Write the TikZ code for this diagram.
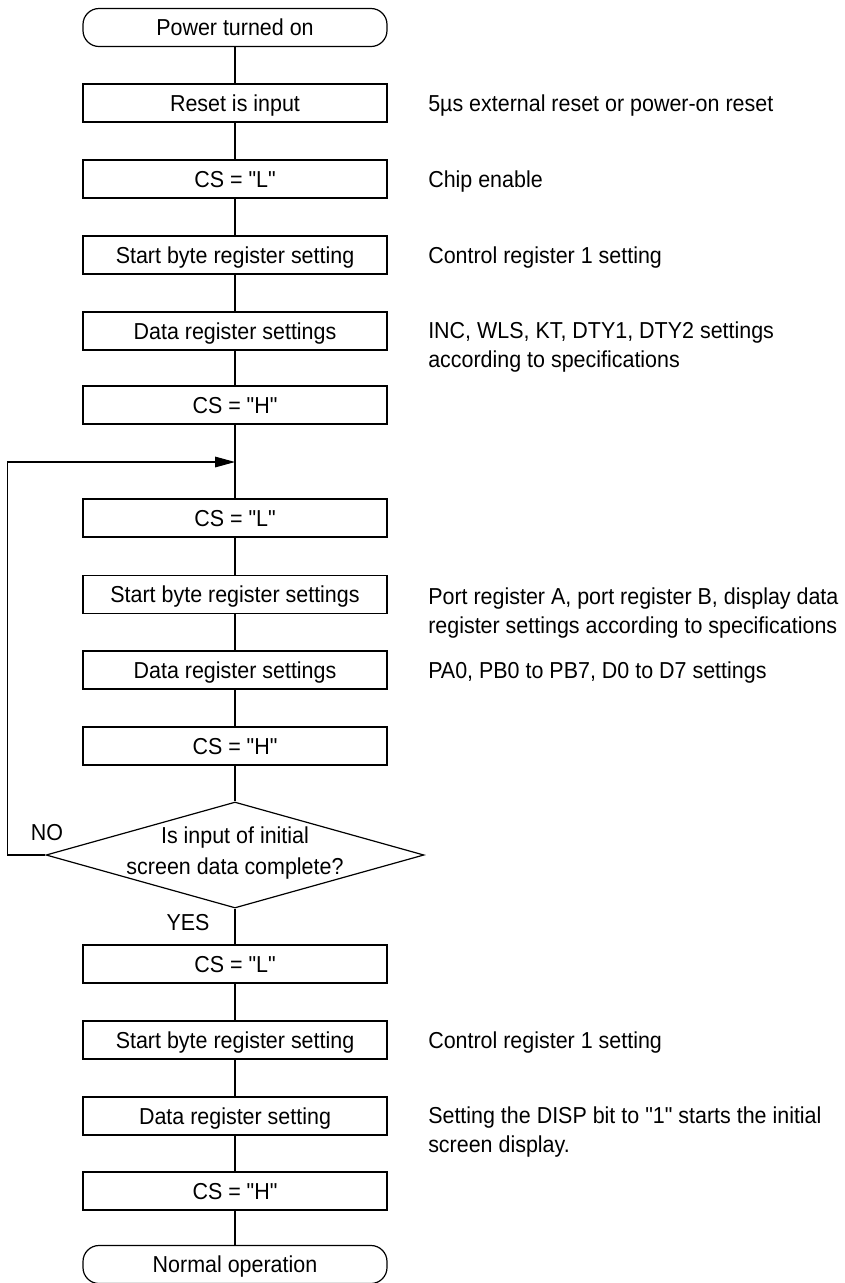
\documentclass[tikz,border=0pt]{standalone}
\usepackage{fontspec}
\setmainfont[FakeStretch=0.93, Ligatures=TeXOff]{Liberation Sans}
\usetikzlibrary{shapes.geometric,arrows.meta}
\begin{document}
\begin{tikzpicture}[x=0.75pt,y=-0.75pt,
  font=\fontsize{17.3pt}{21.75pt}\selectfont,
  boxbase/.style={draw, line width=0.9pt, minimum width=228pt, minimum height=28.5pt, inner sep=0pt, text height=12.4pt, text depth=0pt},
  proc/.style={boxbase},
  term/.style={boxbase, rounded corners=12pt},
  note/.style={anchor=west, align=left, inner sep=0pt},
  notei/.style={note, text height=12.4pt, text depth=0pt},
  dec/.style={draw, shape=diamond, line width=0.9pt, minimum width=283.5pt, minimum height=79.5pt, aspect=3.57, inner sep=0pt},
  dectxt/.style={align=center, inner sep=0pt, font=\fontsize{17.3pt}{23pt}\selectfont},
  flow/.style={line width=0.8pt},
  lbl/.style={inner sep=0pt, text height=12.4pt, text depth=0pt}
]
\useasboundingbox (0,0) rectangle (845,1283);

% main column
\node[term] (start) at (235,27.5) {Power turned on};
\node[proc] (n1) at (235,103) {Reset is input};
\node[proc] (n2) at (235,179) {CS = "L"};
\node[proc] (n3) at (235,255) {Start byte register setting};
\node[proc] (n4) at (235,331) {Data register settings};
\node[proc] (n5) at (235,405) {CS = "H"};
\coordinate (loop) at (235,462);
\node[proc] (n6) at (235,518) {CS = "L"};
\node[proc] (n7) at (235,594.5) {Start byte register settings};
\node[proc] (n8) at (235,670) {Data register settings};
\node[proc] (n9) at (235,746) {CS = "H"};
\node[dec] (dec) at (235,855) {};
\node[dectxt] (dectext) at (235,853) {Is input of initial\\screen data complete?};
\node[proc] (n10) at (235,964) {CS = "L"};
\node[proc] (n11) at (235,1040) {Start byte register setting};
\node[proc] (n12) at (235,1116) {Data register setting};
\node[proc] (n13) at (235,1191) {CS = "H"};
\node[term] (end) at (235,1264.5) {Normal operation};

% connectors
\draw[flow] (start) -- (n1);
\draw[flow] (n1) -- (n2);
\draw[flow] (n2) -- (n3);
\draw[flow] (n3) -- (n4);
\draw[flow] (n4) -- (n5);
\draw[flow] (n5) -- (n6);
\draw[flow] (n6) -- (n7);
\draw[flow] (n7) -- (n8);
\draw[flow] (n8) -- (n9);
\draw[flow] (n9) -- (dec);
\draw[flow] (dec) -- (n10);
\draw[flow] (n10) -- (n11);
\draw[flow] (n11) -- (n12);
\draw[flow] (n12) -- (n13);
\draw[flow] (n13) -- (end);
\draw[flow, -{Triangle[length=15pt,width=8pt]}] (dec.west) -- ++(-38,0) |- (loop);

% branch labels
\node[lbl] (no) at (47,832) {NO};
\node[lbl] (yes) at (188,922) {YES};

% notes
\node[notei] (c1) at (428,103) {5µs external reset or power-on reset};
\node[notei] (c2) at (428,179) {Chip enable};
\node[notei] (c3) at (428,255) {Control register 1 setting};
\node[note] (c4) at (428,347) {INC, WLS, KT, DTY1, DTY2 settings\\according to specifications};
\node[note] (c5) at (428,613) {Port register A, port register B, display data\\register settings according to specifications};
\node[notei] (c6) at (428,670) {PA0, PB0 to PB7, D0 to D7 settings};
\node[notei] (c7) at (428,1040) {Control register 1 setting};
\node[note] (c8) at (428,1132) {Setting the DISP bit to "1" starts the initial\\screen display.};
\end{tikzpicture}
\end{document}
